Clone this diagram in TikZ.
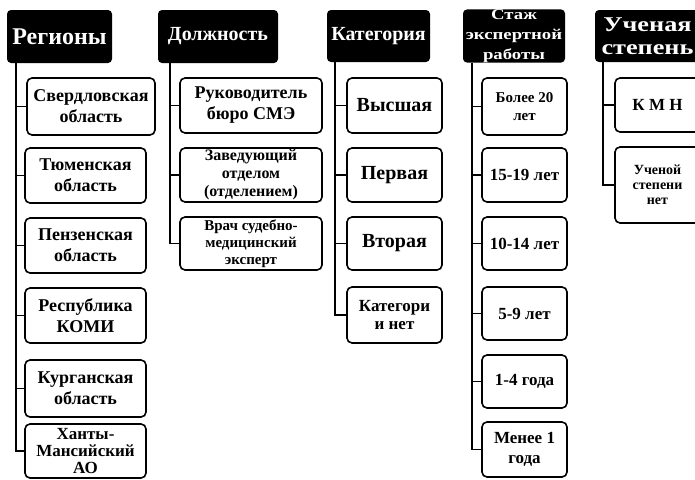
\documentclass[tikz,border=0pt]{standalone}
\usepackage{fontspec}
\setmainfont{Liberation Serif}
\newfontfamily\widefont[FakeStretch=1.25]{Liberation Serif}
\newcommand\bfs[2]{\fontsize{#1}{#2}\selectfont\bfseries}
% #1 style, #2 name, #3 x1, #4 x2, #5 y1, #6 y2, #7 text
\newcommand\mybox[7]{\node[#1, minimum width={(#4)-(#3)}, minimum height={(#6)-(#5)}] (#2) at ({((#3)+(#4))/2},{((#5)+(#6))/2}) {#7};}
\begin{document}
\begin{tikzpicture}[x=1pt,y=-1pt,
  hdr/.style={fill=black, rounded corners=4pt, text=white, align=center, inner sep=0pt},
  box/.style={draw, line width=1.6pt, rounded corners=5pt, align=center, inner sep=0pt},
  conn/.style={line width=1.3pt}]
\path[use as bounding box, clip] (0,0) rectangle (695,479);
\fill[white] (0,0) rectangle (695,479);
% ---------- Регионы
\mybox{hdr,font={\bfs{24}{26}}}{hReg}{7}{112}{10}{63}{Регионы}
\mybox{box,font={\bfs{18}{21}}}{r1}{27}{155}{78}{135}{Свердловская\\область}
\mybox{box,font={\bfs{18}{21}}}{r2}{25}{146}{148}{203}{Тюменская\\область}
\mybox{box,font={\bfs{18}{21}}}{r3}{25}{146}{218}{273}{Пензенская\\область}
\mybox{box,font={\bfs{18}{21}}}{r4}{25}{146}{288}{343}{Республика\\КОМИ}
\mybox{box,font={\bfs{18}{21}}}{r5}{25}{146}{360}{417}{Курганская\\область}
\mybox{box,font={\bfs{17}{17}}}{r6}{25}{146}{424}{478}{Ханты-\\Мансийский\\АО}
\coordinate (tReg) at (16,0);
\draw[conn] (tReg |- hReg.south) |- (r6.west);
\foreach \n in {r1,r2,r3,r4,r5} \draw[conn] (tReg |- \n.west) -- (\n.west);
% ---------- Должность
\mybox{hdr,font={\bfs{20}{22}}}{hDol}{158}{278}{10}{63}{Должность}
\mybox{box,font={\bfs{18}{21}}}{d1}{180}{322}{78}{133}{Руководитель\\бюро СМЭ}
\mybox{box,font={\bfs{16}{18}}}{d2}{180}{322}{148}{202}{Заведующий\\отделом\\(отделением)}
\mybox{box,font={\bfs{15}{17}}}{d3}{180}{322}{217}{270}{Врач судебно-\\медицинский\\эксперт}
\coordinate (tDol) at (170,0);
\draw[conn] (tDol |- hDol.south) |- (d3.west);
\foreach \n in {d1,d2} \draw[conn] (tDol |- \n.west) -- (\n.west);
% ---------- Категория
\mybox{hdr,font={\bfs{20}{22}}}{hKat}{327}{430}{10}{62}{Категория}
\mybox{box,font={\bfs{20}{22}}}{k1}{347}{442}{78}{133}{Высшая}
\mybox{box,font={\bfs{20}{22}}}{k2}{347}{442}{148}{202}{Первая}
\mybox{box,font={\bfs{20}{22}}}{k3}{347}{442}{217}{270}{Вторая}
\mybox{box,font={\bfs{17}{18}}}{k4}{347}{442}{287}{343}{Категори\\и нет}
\coordinate (tKat) at (335,0);
\draw[conn] (tKat |- hKat.south) |- (k4.west);
\foreach \n in {k1,k2,k3} \draw[conn] (tKat |- \n.west) -- (\n.west);
% ---------- Стаж
\mybox{hdr,font={\widefont\bfs{15}{20}}}{hSt}{463}{565}{10}{62}{Стаж\\экспертной\\работы}
\mybox{box,font={\bfs{15}{18}}}{s1}{482}{567}{78}{135}{Более 20\\лет}
\mybox{box,font={\bfs{17}{19}}}{s2}{482}{567}{148}{202}{15-19 лет}
\mybox{box,font={\bfs{17}{19}}}{s3}{482}{567}{217}{270}{10-14 лет}
\mybox{box,font={\bfs{17}{19}}}{s4}{482}{567}{287}{340}{5-9 лет}
\mybox{box,font={\bfs{17}{19}}}{s5}{482}{567}{355}{408}{1-4 года}
\mybox{box,font={\bfs{17}{20}}}{s6}{482}{567}{422}{477}{Менее 1\\года}
\coordinate (tSt) at (472,0);
\draw[conn] (tSt |- hSt.south) |- (s6.west);
\foreach \n in {s1,s2,s3,s4,s5} \draw[conn] (tSt |- \n.west) -- (\n.west);
% ---------- Ученая степень
\mybox{hdr,font={\widefont\bfs{21}{23}}}{hUch}{595}{700}{10}{62}{Ученая\\степень}
\mybox{box,font={\bfs{17}{19}}}{u1}{615}{700}{78}{132}{К М Н}
\mybox{box,font={\bfs{14}{15}}}{u2}{615}{700}{147}{223}{Ученой\\степени\\нет}
\coordinate (tUch) at (603,0);
\draw[conn] (tUch |- hUch.south) |- (u2.west);
\draw[conn] (tUch |- u1.west) -- (u1.west);
\end{tikzpicture}
\end{document}
